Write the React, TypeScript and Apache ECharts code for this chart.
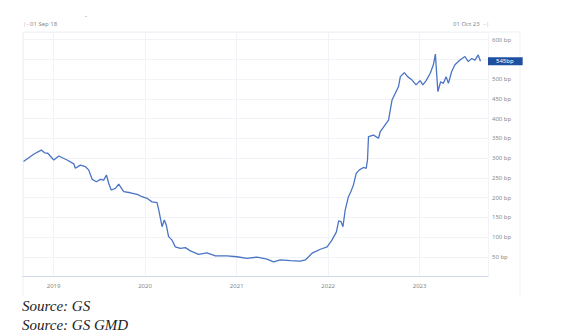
import React, { useEffect, useRef } from "react";
import * as echarts from "echarts";

const dates = [
  "2018-09-03", "2018-10-15", "2018-11-13", "2018-11-26", "2018-12-09", "2019-01-02", "2019-01-22",
  "2019-02-24", "2019-03-23", "2019-03-29", "2019-04-18", "2019-05-08", "2019-05-21", "2019-06-04",
  "2019-06-21", "2019-07-07", "2019-07-20", "2019-07-31", "2019-08-09", "2019-08-19", "2019-09-05",
  "2019-09-18", "2019-10-08", "2019-11-04", "2019-12-01", "2019-12-20", "2020-01-09", "2020-01-29",
  "2020-02-18", "2020-02-25", "2020-03-09", "2020-03-18", "2020-03-26", "2020-04-04", "2020-04-18",
  "2020-05-01", "2020-05-21", "2020-06-10", "2020-06-30", "2020-08-02", "2020-09-04", "2020-10-08",
  "2020-11-23", "2021-01-02", "2021-02-11", "2021-03-23", "2021-05-02", "2021-05-28", "2021-06-24",
  "2021-08-03", "2021-09-12", "2021-10-02", "2021-10-15", "2021-10-29", "2021-11-11", "2021-12-01",
  "2021-12-28", "2022-01-16", "2022-02-03", "2022-02-12", "2022-02-21", "2022-03-01", "2022-03-10",
  "2022-03-23", "2022-04-02", "2022-04-12", "2022-04-23", "2022-05-06", "2022-05-22", "2022-06-02",
  "2022-06-07", "2022-06-11", "2022-07-01", "2022-07-21", "2022-07-28", "2022-08-10", "2022-08-30",
  "2022-09-13", "2022-09-26", "2022-10-09", "2022-10-16", "2022-11-01", "2022-11-14", "2022-12-01",
  "2022-12-18", "2023-01-03", "2023-01-14", "2023-01-27", "2023-02-12", "2023-02-25", "2023-03-05",
  "2023-03-10", "2023-03-15", "2023-03-26", "2023-04-06", "2023-04-17", "2023-04-26", "2023-05-09",
  "2023-05-22", "2023-06-11", "2023-07-01", "2023-07-14", "2023-07-28", "2023-08-10", "2023-08-23",
  "2023-09-01",
];

const spreadBp = [
  291, 310, 320, 313, 312, 295, 305,
  295, 285, 274, 282, 278, 270, 246,
  240, 246, 244, 257, 236, 219, 223,
  234, 215, 212, 208, 202, 198, 189,
  187, 168, 126, 143, 130, 101, 92,
  75, 71, 73, 65, 56, 60, 52,
  52, 50, 46, 49, 44, 37, 42,
  40, 39, 42, 50, 59, 63, 69,
  75, 92, 113, 141, 139, 126, 168,
  202, 215, 232, 261, 270, 276, 274,
  295, 354, 358, 350, 367, 378, 396,
  447, 464, 481, 506, 516, 506, 498,
  485, 496, 485, 496, 514, 536, 563,
  514, 468, 493, 489, 506, 489, 519,
  536, 548, 557, 544, 552, 548, 561,
  545,
];

const lastValue = 545;
const startLabel = "01 Sep 18";
const endLabel = "01 Oct 23";
const sources = ["Source: GS", "Source: GS GMD"];

export default function App() {
  const ref = useRef<HTMLDivElement>(null);

  useEffect(() => {
    if (!ref.current) return;
    const chart = echarts.init(ref.current, null, { renderer: "svg" });
    const seriesData = dates.map((d, i) => [d, spreadBp[i]]);
    chart.setOption({
      animation: false,
      backgroundColor: "#ffffff",
      grid: { left: 23, right: 96, top: 32, bottom: 59.5, containLabel: false },
      xAxis: {
        type: "time",
        min: "2018-09-01",
        max: "2023-10-01",
        minInterval: 365 * 24 * 3600 * 1000,
        maxInterval: 366 * 24 * 3600 * 1000,
        axisLine: { show: true, lineStyle: { color: "#cfdbeb", width: 1 } },
        axisTick: { show: false },
        axisLabel: {
          color: "#8a8a8a",
          fontSize: 6,
          margin: 6,
          fontFamily: "Noto Sans",
          showMinLabel: false,
          showMaxLabel: false,
          formatter: (v: number) => String(new Date(v).getFullYear()),
        },
        splitLine: { show: true, lineStyle: { color: "#f1f3f6", width: 1 } },
      },
      yAxis: {
        type: "value",
        position: "right",
        min: 0,
        max: 619,
        interval: 50,
        axisLine: { show: false },
        axisTick: { show: false },
        axisLabel: {
          color: "#8a8a8a",
          fontSize: 6,
          margin: 4,
          fontFamily: "Noto Sans",
          formatter: (v: number) => (v > 0 && v % 50 === 0 && v !== 550 ? v + " bp" : ""),
        },
        splitLine: { show: true, lineStyle: { color: "#f1f3f6", width: 1 } },
      },
      series: [
        {
          type: "line",
          data: seriesData,
          showSymbol: false,
          symbol: "none",
          lineStyle: { color: "#4a74c4", width: 1.3 },
          markLine: {
            silent: true,
            symbol: ["none", "none"],
            lineStyle: { color: "rgba(0,0,0,0)", width: 0, type: "solid" },
            data: [{ yAxis: lastValue }],
            label: {
              show: true,
              position: "end",
              distance: 0,
              formatter: lastValue + "bp",
              color: "#ffffff",
              fontSize: 6,
              fontFamily: "Noto Sans",
              backgroundColor: "#1f4f9f",
              padding: [1, 9, 1, 8],
            },
          },
        },
      ],
      graphic: [
        { type: "line", shape: { x1: 23, y1: 32, x2: 520, y2: 32 }, style: { stroke: "#eef1f5", lineWidth: 1 } },
        { type: "line", shape: { x1: 23, y1: 32, x2: 23, y2: 296 }, style: { stroke: "#eef1f5", lineWidth: 1 } },
        { type: "line", shape: { x1: 520, y1: 32, x2: 520, y2: 297 }, style: { stroke: "#eef1f5", lineWidth: 1 } },
        { type: "text", x: 23, y: 24, style: { text: "|–", fill: "#c0c0c0", fontSize: 6, fontFamily: "Noto Sans", verticalAlign: "middle" } },
        { type: "text", x: 30, y: 24, style: { text: startLabel, fill: "#8a8a8a", fontSize: 6, fontFamily: "Noto Sans", verticalAlign: "middle" } },
        { type: "text", x: 453, y: 24, style: { text: endLabel, fill: "#8a8a8a", fontSize: 6, fontFamily: "Noto Sans", verticalAlign: "middle" } },
        { type: "text", x: 483, y: 24, style: { text: "–|", fill: "#c0c0c0", fontSize: 6, fontFamily: "Noto Sans", verticalAlign: "middle" } },
        { type: "text", x: 85, y: 16, style: { text: "-", fill: "#5470a0", fontSize: 6, fontFamily: "Noto Sans", verticalAlign: "middle" } },
        { type: "text", x: 22, y: 306, style: { text: sources[0], fill: "#222222", fontSize: 15, fontStyle: "italic", fontFamily: "Liberation Serif", verticalAlign: "middle" } },
        { type: "text", x: 22, y: 325, style: { text: sources[1], fill: "#222222", fontSize: 15, fontStyle: "italic", fontFamily: "Liberation Serif", verticalAlign: "middle" } },
      ],
    });
    return () => chart.dispose();
  }, []);

  return (
    <div
      ref={ref}
      style={{ position: "fixed", left: 0, top: 0, width: 584, height: 336 }}
    />
  );
}
